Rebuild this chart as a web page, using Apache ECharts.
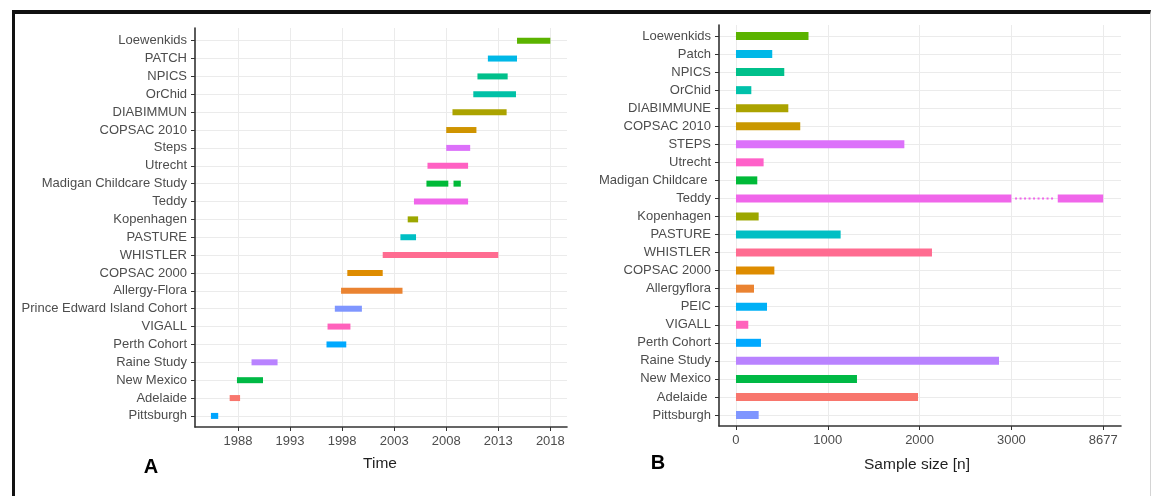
<!DOCTYPE html>
<html>
<head>
<meta charset="utf-8">
<script src="https://cdn.jsdelivr.net/npm/echarts@6/dist/echarts.min.js"></script>
<style>
html,body{margin:0;padding:0;background:#fff;}
#chart{width:1152px;height:496px;position:absolute;left:0;top:0;}
#frame{position:absolute;left:12px;top:10px;width:1139px;height:500px;box-sizing:border-box;
  border-top:4px solid #111;border-left:3px solid #111;border-right:1px solid #d4d4d4;pointer-events:none;}
</style>
</head>
<body>
<div id="chart"></div>
<div id="frame"></div>
<script>
// ---------- Panel A: study periods (top to bottom) ----------
const studiesA = ['Loewenkids','PATCH','NPICS','OrChid','DIABIMMUN','COPSAC 2010','Steps','Utrecht',
  'Madigan Childcare Study','Teddy','Kopenhagen','PASTURE','WHISTLER','COPSAC 2000','Allergy-Flora',
  'Prince Edward Island Cohort','VIGALL','Perth Cohort','Raine Study','New Mexico','Adelaide','Pittsburgh'];
const startA = [2014.8,2012.0,2011.0,2010.6,2008.6,2008.0,2008.0,2006.2,2006.1,2004.9,2004.3,2003.6,
  2001.9,1998.5,1997.9,1997.3,1996.6,1996.5,1989.3,1987.9,1987.2,1985.4];
const endA = [2018.0,2014.8,2013.9,2014.7,2013.8,2010.9,2010.3,2010.1,2008.2,2010.1,2005.3,2005.1,
  2013.0,2001.9,2003.8,1999.9,1998.8,1998.4,1991.8,1990.4,1988.2,1986.1];
// second recruitment period of the Madigan study
const madiganSecond = {study:'Madigan Childcare Study', start:2008.7, end:2009.4};
const colorsA = ['#5BB300','#00B8E7','#00C08B','#00C1A7','#ABA300','#CF9400','#DC71FA','#FF61C3',
  '#00BA38','#F066EA','#9CA700','#00BFC4','#FF6C91','#DE8C00','#EA8331','#7F96FF','#FF62BC',
  '#00A9FF','#B983FF','#00B945','#F8766D','#00A5FF'];
const yearTicks = [1988,1993,1998,2003,2008,2013,2018];

// ---------- Panel B: sample sizes (top to bottom) ----------
const studiesB = ['Loewenkids','Patch','NPICS','OrChid','DIABIMMUNE','COPSAC 2010','STEPS','Utrecht',
  'Madigan Childcare ','Teddy','Kopenhagen','PASTURE','WHISTLER','COPSAC 2000','Allergyflora','PEIC',
  'VIGALL','Perth Cohort','Raine Study','New Mexico','Adelaide ','Pittsburgh'];
const sizeB = [790,395,526,167,570,700,1834,301,232,8677,247,1140,2135,418,196,338,134,272,2865,1318,1983,247];
const colorsB = ['#5BB300','#00B8E7','#00C08B','#00C1AA','#ABA300','#C99800','#DC71FA','#FF61C9',
  '#00BA38','#F066EA','#9CA700','#00BFC4','#FF6C91','#DE8C00','#EA8331','#00B0F6','#FF62BC',
  '#00A9FF','#B983FF','#00B945','#F8766D','#7F96FF'];
const sizeTicks = [0,1000,2000,3000,8677];
const sizeTickLabels = ['0','1000','2000','3000','8677'];
const breakAt = 3000;          // axis is broken after this value
const breakMax = 8677;         // value drawn at the next tick slot

// broken-axis scale: linear to 3000, then 3000..8677 squeezed into one tick step
function axisPos(v){
  return v <= breakAt ? v : breakAt + (v - breakAt) / (breakMax - breakAt) * 1000;
}

const FONT = 'Liberation Sans, Arial, sans-serif';
const labelStyle = {color:'#4D4D4D', fontSize:13, fontFamily:FONT};
const gridLine = {show:true, lineStyle:{color:'#EBEBEB', width:1}};
const axisLineStyle = {show:true, onZero:false, lineStyle:{color:'#333', width:1.6}};
const tickStyle = {show:true, length:4, lineStyle:{color:'#333', width:1}};
const idxA = studiesA.map((_, i) => i);
const idxB = studiesB.map((_, i) => i);

const dataA = studiesA.map((s, i) => [i, startA[i], endA[i]]);
dataA.push([studiesA.indexOf(madiganSecond.study), madiganSecond.start, madiganSecond.end]);
const dataB = studiesB.map((s, i) => [i, sizeB[i]]);

const chart = echarts.init(document.getElementById('chart'), null, {renderer:'canvas'});
chart.setOption({
  animation:false,
  grid:[
    {left:195, top:28, width:372, height:399},
    {left:719, top:25, width:402, height:401}
  ],
  xAxis:[
    {type:'value', gridIndex:0, min:1983.87, max:2019.6,
     axisLine:axisLineStyle,
     axisTick:Object.assign({customValues:yearTicks}, tickStyle),
     axisLabel:Object.assign({customValues:yearTicks, margin:8, formatter:(v) => String(Math.round(v))}, labelStyle),
     splitLine:gridLine},
    {type:'value', gridIndex:1, min:-185, max:4194,
     axisLine:axisLineStyle,
     axisTick:Object.assign({customValues:sizeTicks.map(axisPos)}, tickStyle),
     axisLabel:Object.assign({customValues:sizeTicks.map(axisPos), margin:8,
       formatter:(v) => { const k = sizeTicks.findIndex(t => Math.abs(axisPos(t) - v) < 1e-6); return k >= 0 ? sizeTickLabels[k] : ''; }}, labelStyle),
     splitLine:gridLine}
  ],
  yAxis:[
    {type:'value', gridIndex:0, inverse:true, min:-0.71, max:21.62,
     axisLine:axisLineStyle,
     axisTick:Object.assign({customValues:idxA}, tickStyle),
     axisLabel:Object.assign({customValues:idxA, margin:8, formatter:(v) => studiesA[v]}, labelStyle),
     splitLine:gridLine},
    {type:'value', gridIndex:1, inverse:true, min:-0.61, max:21.61,
     axisLine:axisLineStyle,
     axisTick:Object.assign({customValues:idxB}, tickStyle),
     axisLabel:Object.assign({customValues:idxB, margin:8, formatter:(v) => studiesB[v]}, labelStyle),
     splitLine:gridLine}
  ],
  series:[
    {type:'custom', xAxisIndex:0, yAxisIndex:0, data:dataA, encode:{x:[1,2], y:0},
     renderItem:(params, api) => {
       const i = api.value(0);
       const p0 = api.coord([api.value(1), i]);
       const p1 = api.coord([api.value(2), i]);
       const h = 6;
       return {type:'rect', shape:{x:p0[0], y:p0[1]-h/2, width:p1[0]-p0[0], height:h},
               style:{fill:colorsA[i]}};
     }},
    {type:'custom', xAxisIndex:1, yAxisIndex:1, data:dataB, encode:{x:1, y:0},
     renderItem:(params, api) => {
       const i = api.value(0), v = api.value(1);
       const h = 8, c = colorsB[i];
       const p0 = api.coord([0, i]);
       const pEnd = api.coord([axisPos(v), i]);
       if (v <= breakAt) {
         return {type:'rect', shape:{x:p0[0], y:p0[1]-h/2, width:pEnd[0]-p0[0], height:h}, style:{fill:c}};
       }
       const pB = api.coord([breakAt, i]);
       const d0 = api.coord([breakAt + 40, i]);
       const d1 = api.coord([breakAt + 455, i]);
       const r0 = api.coord([breakAt + 505, i]);
       return {type:'group', children:[
         {type:'rect', shape:{x:p0[0], y:p0[1]-h/2, width:pB[0]-p0[0], height:h}, style:{fill:c}},
         {type:'line', shape:{x1:d0[0], y1:d0[1], x2:d1[0], y2:d1[1]},
          style:{stroke:c, lineWidth:2, lineDash:[2,2.5]}},
         {type:'rect', shape:{x:r0[0], y:r0[1]-h/2, width:pEnd[0]-r0[0], height:h}, style:{fill:c}}
       ]};
     }}
  ],
  graphic:[
    {type:'text', x:380, y:464, style:{text:'Time', fontSize:15.5, fontFamily:FONT, fill:'#1f1f1f', align:'center', verticalAlign:'middle'}},
    {type:'text', x:917, y:465, style:{text:'Sample size [n]', fontSize:15.5, fontFamily:FONT, fill:'#1f1f1f', align:'center', verticalAlign:'middle'}},
    {type:'text', x:151, y:467, style:{text:'A', fontSize:20, fontWeight:'bold', fontFamily:FONT, fill:'#000', align:'center', verticalAlign:'middle'}},
    {type:'text', x:658, y:463, style:{text:'B', fontSize:20, fontWeight:'bold', fontFamily:FONT, fill:'#000', align:'center', verticalAlign:'middle'}}
  ]
});
</script>
</body>
</html>
